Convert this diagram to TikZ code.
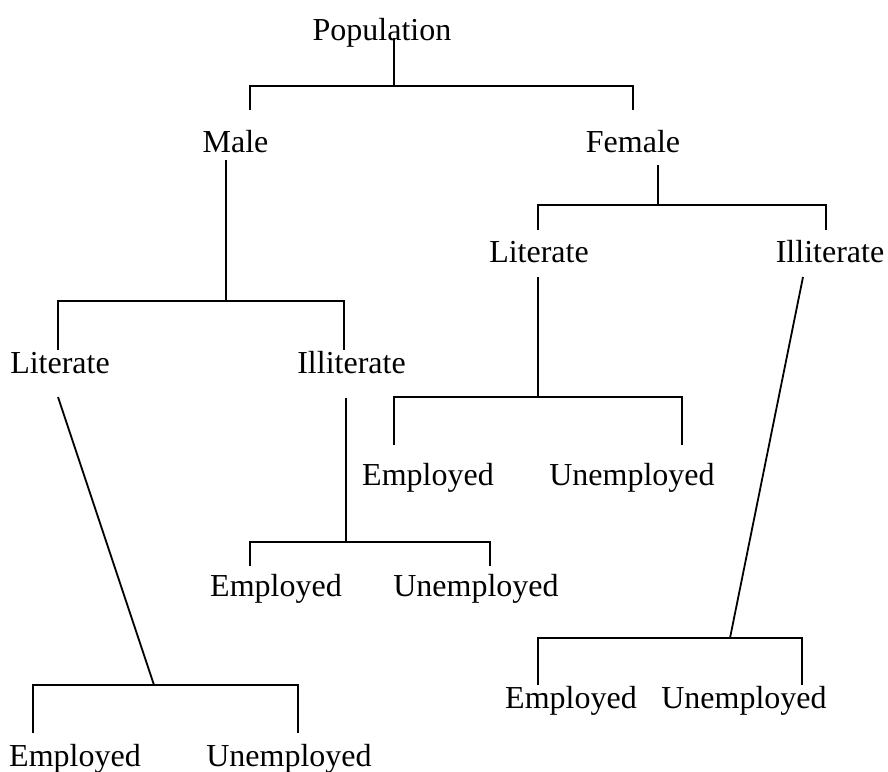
\documentclass[tikz,border=0pt]{standalone}
\usepackage{fontspec}
\setmainfont{Liberation Serif}

\begin{document}
\begin{tikzpicture}[x=1pt, y=-1pt,
    lbl/.style={anchor=base, inner sep=0pt, font=\fontsize{32}{38}\selectfont},
    branch/.style={line width=1.8pt, line cap=butt}]

\useasboundingbox (0,0) rectangle (888,771);

% Root
\node[lbl] (pop) at (382,40) {Population};
\coordinate (pop-s) at (394,38);
\coordinate (pop-j) at (394,86);
\draw[branch] (pop-s) -- (pop-j);

% Sex
\node[lbl] (male) at (235.5,152) {Male};
\node[lbl] (female) at (633,152) {Female};
\coordinate (male-t) at (250,110);
\coordinate (female-t) at (633,110);
\draw[branch] (male-t) |- (pop-j) -| (female-t);

% Male branch
\begin{scope}
    \coordinate (male-s) at (226,160);
    \coordinate (male-j) at (226,301);
    \draw[branch] (male-s) -- (male-j);

    \node[lbl] (mlit) at (60,373) {Literate};
    \node[lbl] (mill) at (351.5,373) {Illiterate};
    \coordinate (mlit-t) at (58,350);
    \coordinate (mill-t) at (344,350);
    \draw[branch] (mlit-t) |- (male-j) -| (mill-t);

    % Literate -> slanted stem
    \coordinate (mlit-s) at (58,397);
    \coordinate (mlit-j) at (154,685);
    \draw[branch] (mlit-s) -- (mlit-j);
    \node[lbl] (mlit-emp) at (75,766) {Employed};
    \node[lbl] (mlit-unemp) at (289,766) {Unemployed};
    \coordinate (mlit-emp-t) at (33,733);
    \coordinate (mlit-unemp-t) at (298,733);
    \draw[branch] (mlit-emp-t) |- (mlit-j) -| (mlit-unemp-t);

    % Illiterate
    \coordinate (mill-s) at (346,398);
    \coordinate (mill-j) at (346,542);
    \draw[branch] (mill-s) -- (mill-j);
    \node[lbl] (mill-emp) at (276,596) {Employed};
    \node[lbl] (mill-unemp) at (476,596) {Unemployed};
    \coordinate (mill-emp-t) at (250,566);
    \coordinate (mill-unemp-t) at (490,566);
    \draw[branch] (mill-emp-t) |- (mill-j) -| (mill-unemp-t);
\end{scope}

% Female branch
\begin{scope}
    \coordinate (female-s) at (658,165);
    \coordinate (female-j) at (658,205);
    \draw[branch] (female-s) -- (female-j);

    \node[lbl] (flit) at (539,262) {Literate};
    \node[lbl] (fill) at (830,262) {Illiterate};
    \coordinate (flit-t) at (538,230);
    \coordinate (fill-t) at (826,230);
    \draw[branch] (flit-t) |- (female-j) -| (fill-t);

    % Literate
    \coordinate (flit-s) at (538,277);
    \coordinate (flit-j) at (538,397);
    \draw[branch] (flit-s) -- (flit-j);
    \node[lbl] (flit-emp) at (428,485) {Employed};
    \node[lbl] (flit-unemp) at (632,485) {Unemployed};
    \coordinate (flit-emp-t) at (394,445);
    \coordinate (flit-unemp-t) at (682,445);
    \draw[branch] (flit-emp-t) |- (flit-j) -| (flit-unemp-t);

    % Illiterate -> slanted stem
    \coordinate (fill-s) at (803,277);
    \coordinate (fill-j) at (730,638);
    \draw[branch] (fill-s) -- (fill-j);
    \node[lbl] (fill-emp) at (571,708) {Employed};
    \node[lbl] (fill-unemp) at (744,708) {Unemployed};
    \coordinate (fill-emp-t) at (538,685);
    \coordinate (fill-unemp-t) at (802,685);
    \draw[branch] (fill-emp-t) |- (fill-j) -| (fill-unemp-t);
\end{scope}

\end{tikzpicture}
\end{document}
